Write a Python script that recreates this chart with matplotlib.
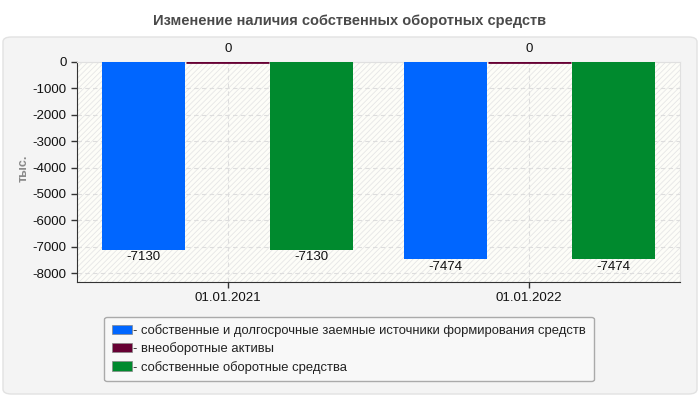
import matplotlib.pyplot as plt
import matplotlib.patches as patches
import numpy as np

dates = ['01.01.2021', '01.01.2022']
series_names = ['собственные и долгосрочные заемные источники формирования средств',
                'внеоборотные активы',
                'собственные оборотные средства']
own_long_sources = [-7130, -7474]
non_current_assets = [0, 0]
own_working_capital = [-7130, -7474]
colors = ['#0066ff', '#660033', '#008a2e']

plt.rcParams['font.family'] = ['Liberation Sans', 'DejaVu Sans']
plt.rcParams['hatch.linewidth'] = 0.6
plt.rcParams['axes.unicode_minus'] = False

fig = plt.figure(figsize=(7, 4), dpi=100)
fig.patch.set_facecolor('white')

# grey rounded panel under the chart
panel = patches.FancyBboxPatch((3 / 700, 6 / 400), 694 / 700, 357 / 400,
                               boxstyle='round,pad=0,rounding_size=0.012',
                               transform=fig.transFigure, facecolor='#f4f4f4',
                               edgecolor='#e2e2e2', linewidth=1, zorder=-10)
fig.patches.append(panel)

fig.text(0.5, 0.948, 'Изменение наличия собственных оборотных средств',
         ha='center', va='center', fontsize=10.5, fontweight='bold', color='#4a4a4a')

ax = fig.add_axes([77 / 700, 118 / 400, 603 / 700, 220 / 400])
ax.set_facecolor('#fdfdf8')
hatch = patches.Rectangle((0, 0), 1, 1, transform=ax.transAxes, facecolor='none',
                          edgecolor='#e6e6e6', hatch='//////', linewidth=0, zorder=0)
ax.add_patch(hatch)

x = np.arange(len(dates))
width = 0.275
step = 0.279
all_series = [own_long_sources, non_current_assets, own_working_capital]
for i, (vals, col) in enumerate(zip(all_series, colors)):
    pos = x + (i - 1) * step
    ax.bar(pos, vals, width, color=col, edgecolor=col,
           linewidth=2 if i == 1 else 0, zorder=3)
    for p, v in zip(pos, vals):
        if v < 0:
            ax.annotate(str(v), (p, v), xytext=(0, -1), textcoords='offset points',
                        ha='center', va='top', fontsize=9.5, color='#111111', zorder=4)
        else:
            ax.annotate(str(v), (p, v), xytext=(0, 5), textcoords='offset points',
                        ha='center', va='bottom', fontsize=9.5, color='#111111', zorder=4)

ax.set_xlim(-0.5, 1.5)
ax.set_ylim(-8340, 0)
ax.set_yticks(np.arange(-8000, 1, 1000))
ax.set_xticks(x)
ax.set_xticklabels(dates)
ax.tick_params(axis='both', labelsize=9.5, colors='#333333', length=4, width=1,
               labelcolor='#111111')
ax.grid(True, color='#dddddd', linestyle=(0, (4, 3)), linewidth=0.8, zorder=1)
ax.set_axisbelow(True)
for side in ['left', 'bottom']:
    ax.spines[side].set_color('#333333')
for side in ['top', 'right']:
    ax.spines[side].set_color('#e0e0e0')

fig.text(24 / 700, 1 - 168 / 400, 'тыс.', rotation=90, ha='center', va='center',
         fontsize=9, fontweight='bold', color='#8a8a8a')

handles = [patches.Patch(facecolor=c, edgecolor='#888888', linewidth=0.5) for c in colors]
leg = fig.legend(handles, ['- ' + s for s in series_names], loc='center',
                 bbox_to_anchor=(349 / 700, 1 - 349 / 400), fontsize=9.4,
                 frameon=True, fancybox=True, edgecolor='#aaaaaa', facecolor='#f8f8f8',
                 handlelength=1.5, handleheight=0.7, handletextpad=0.1,
                 labelspacing=0.4, borderpad=0.6, borderaxespad=0.3, framealpha=1)
leg._legend_box.align = 'left'
for t in leg.get_texts():
    t.set_color('#222222')

fig.savefig('out.png', dpi=100)
